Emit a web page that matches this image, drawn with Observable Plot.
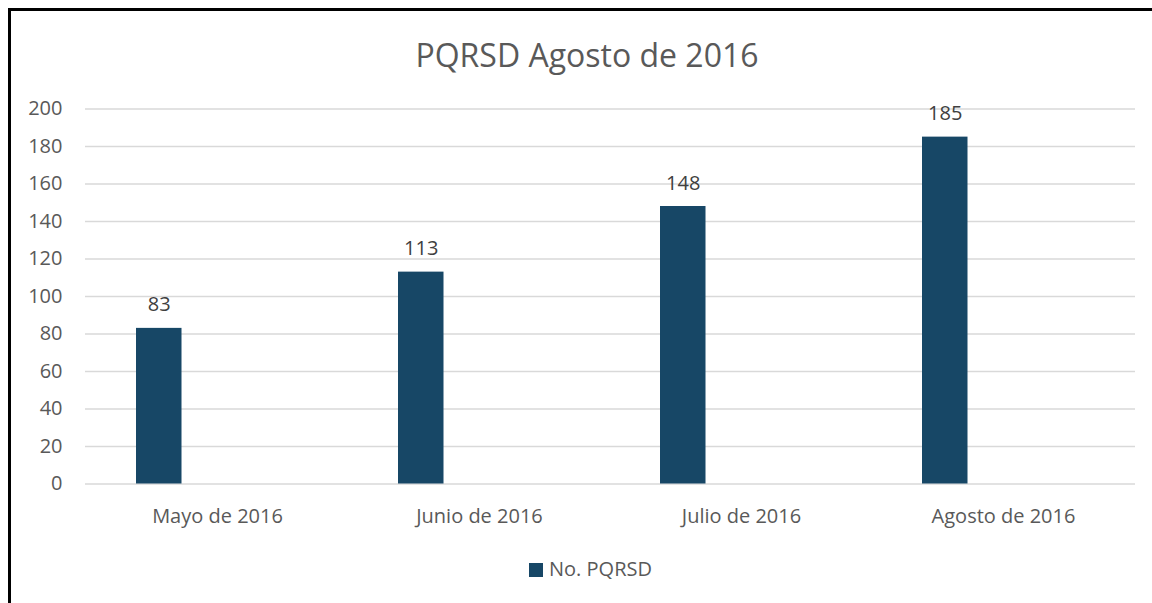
<!DOCTYPE html>
<html>
<head>
<meta charset="utf-8">
<script src="https://cdn.jsdelivr.net/npm/d3@7"></script>
<script src="https://cdn.jsdelivr.net/npm/@observablehq/plot@0.6"></script>
<style>
  html, body { margin: 0; padding: 0; background: #fff; }
  #wrap { position: relative; width: 1152px; height: 603px; overflow: hidden; font-family: "Open Sans", sans-serif; }
  #frame { position: absolute; left: 8px; top: 8px; width: 1200px; height: 700px; border-top: 3px solid #000; border-left: 3px solid #000; box-sizing: border-box; }
  #title { position: absolute; left: 0; width: 1174px; top: 35px; text-align: center; font-size: 32px; line-height: 40px; color: #595959; }
  #legend { position: absolute; left: 0; width: 1181px; top: 555px; text-align: center; font-size: 20px; line-height: 28px; color: #595959; }
  #legend .sw { display: inline-block; width: 14px; height: 14px; background: #174766; margin-right: 6px; vertical-align: -1px; }
  #chart { position: absolute; left: 0; top: 0; }
</style>
</head>
<body>
<div id="wrap">
  <div id="frame"></div>
  <div id="chart"></div>
  <div id="title">PQRSD Agosto de 2016</div>
  <div id="legend"><span class="sw"></span>No. PQRSD</div>
</div>
<script>
const months = ["Mayo de 2016", "Junio de 2016", "Julio de 2016", "Agosto de 2016"];
const values = [83, 113, 148, 185];
const yTicks = [0, 20, 40, 60, 80, 100, 120, 140, 160, 180, 200];
const seriesName = "No. PQRSD";

const data = months.map((m, i) => ({month: m, value: values[i]}));
const barColor = "#174766";

const chart = Plot.plot({
  width: 1152,
  height: 603,
  marginLeft: 85,
  marginRight: 17,
  marginTop: 108.5,
  marginBottom: 119.5,
  style: {fontFamily: "'Open Sans', sans-serif", background: "transparent"},
  x: {type: "band", domain: months, padding: 0, label: null},
  y: {domain: [0, 200], label: null},
  marks: [
    Plot.gridY(yTicks, {stroke: "#d9d9d9", strokeOpacity: 1, strokeWidth: 1.5}),
    Plot.barY(data, {x: "month", y: "value", fill: barColor, insetLeft: 50, insetRight: 166.5}),
    Plot.text(data, {x: "month", y: "value", text: d => String(d.value), dx: -58.25, dy: -17, lineAnchor: "bottom", fontSize: 20, fill: "#404040"}),
    Plot.axisY(yTicks, {tickSize: 0, tickPadding: 23, fontSize: 20, color: "#595959", label: null}),
    Plot.axisX({tickSize: 0, tickPadding: 25, fontSize: 20, color: "#595959", label: null})
  ]
});
document.getElementById("chart").appendChild(chart);
</script>
</body>
</html>
